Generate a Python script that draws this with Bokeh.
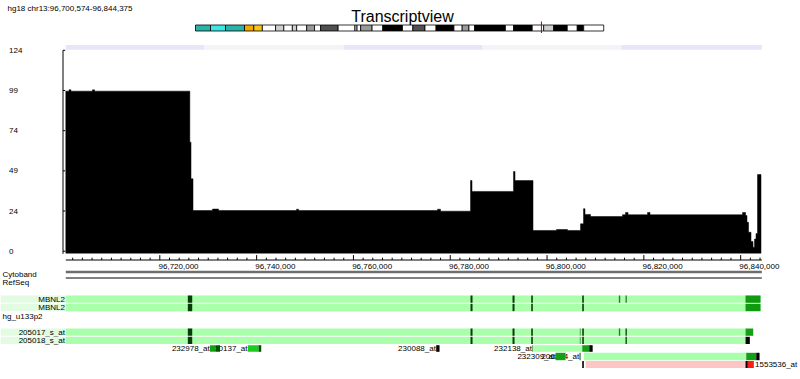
from bokeh.plotting import figure
from bokeh.models import Range1d
from bokeh.embed import file_html
from bokeh.resources import INLINE
from bokeh.core.properties import value

# ---------------- data ----------------
ASSEMBLY = "hg18"
CHROM = "chr13"
REGION_START = 96700574
REGION_END = 96844375
TITLE = "Transcriptview"

# read coverage (step function: value holds from break i to break i+1)
cov_breaks = [96700574, 96701241, 96701654, 96706096, 96706509, 96726198, 96726446,
              96726859, 96730888, 96732127, 96748242, 96748655, 96777373, 96777993,
              96784191, 96784501, 96793074, 96793384, 96797103, 96801958, 96804231,
              96806917, 96807536, 96807846, 96808983, 96815594, 96816214, 96816730,
              96820759, 96821275, 96840386, 96841006, 96841316, 96841626, 96842142,
              96842556, 96842865, 96843175, 96843485, 96844208]
cov_values = [98.8, 99.6, 98.8, 99.6, 98.8, 67.3, 44.7, 25.1, 26.0, 25.1, 25.9, 25.1,
              25.9, 24.7, 43.6, 36.9, 49.2, 43.6, 12.8, 13.4, 12.8, 16.9, 26.2, 22.7,
              21.4, 22.5, 23.9, 22.5, 23.9, 22.5, 23.9, 22.0, 17.8, 11.7, 6.0, 2.5, 7.5,
              10.9, 47.3]

cov_ticks = [0, 24.8, 49.6, 74.4, 99.2, 124]
cov_tick_labels = ["0", "24", "49", "74", "99", "124"]

ruler_major = [96720000, 96740000, 96760000, 96780000, 96800000, 96820000, 96840000]
ruler_minor_step = 2000

# alternating view strip above the coverage
view_breaks = [96700574, 96729235, 96757952, 96786669, 96815387, 96844375]

# chromosome ideogram (Mb) and stains
band_start = [0, 4.2, 8.4, 13.7, 16.3, 18.7, 22.4, 24.7, 27.1, 28.3, 31.1, 33.3, 35.0,
              39.9, 44.6, 45.2, 46.2, 49.4, 52.4, 57.9, 60.8, 64.2, 67.3, 72.3, 74.6,
              76.5, 78.1, 86.7, 89.0, 94.2, 97.4, 100.2, 104.0, 106.8, 108.6]
band_end = [4.2, 8.4, 13.7, 16.3, 18.7, 22.4, 24.7, 27.1, 28.3, 31.1, 33.3, 35.0, 39.9,
            44.6, 45.2, 46.2, 49.4, 52.4, 57.9, 60.8, 64.2, 67.3, 72.3, 74.6, 76.5,
            78.1, 86.7, 89.0, 94.2, 97.4, 100.2, 104.0, 106.8, 108.6, 114.2]
band_stain = ["gvar", "stalk", "gvar", "acen_p", "acen_q", "gneg", "gpos25", "gneg",
              "gpos25", "gneg", "gpos50", "gneg", "gpos75", "gneg", "gpos25", "gneg",
              "gpos50", "gneg", "gpos100", "gneg", "gpos75", "gneg", "gpos100", "gneg",
              "gpos50", "gneg", "gpos100", "gneg", "gpos100", "gneg", "gpos25",
              "gpos100", "gneg", "gpos100", "gneg"]

# RefSeq transcripts of MBNL2
mbnl2_a_start = [96725785, 96784191, 96792868, 96796731, 96807268, 96814829, 96816214, 96841006]
mbnl2_a_end = [96726694, 96784604, 96793281, 96797062, 96807598, 96815118, 96816482, 96844106]
mbnl2_a_kind = ["exon", "exon", "exon", "exon", "exon", "exon_l", "exon_l", "utr"]
mbnl2_b_start = [96725785, 96784191, 96792868, 96796731, 96807268, 96841006]
mbnl2_b_end = [96726694, 96784604, 96793281, 96797062, 96807598, 96844106]
mbnl2_b_kind = ["exon", "exon", "exon", "exon", "exon", "utr"]
mbnl2_extent = [96700574, 96844106]

# hg_u133p2 probe sets
p205017_start = [96725785, 96784191, 96792868, 96796731, 96806772, 96807268, 96814829, 96816214, 96841006]
p205017_end = [96726694, 96784604, 96793281, 96797062, 96806917, 96807598, 96815118, 96816482, 96842597]
p205017_kind = ["exon", "exon", "exon", "exon", "exon_l", "exon", "exon_l", "exon", "probe"]
p205018_start = [96725785, 96784191, 96792868, 96796731, 96806772, 96807268, 96816214, 96841006]
p205018_end = [96726694, 96784604, 96793281, 96797062, 96806917, 96807598, 96816482, 96841894]
p205018_kind = ["exon", "exon", "exon", "exon", "exon_l", "exon", "exon", "black"]
probe_extent = [96700574, 96841006]

row3_id = ["232978_at", "232978_at", "230137_at", "230137_at", "230088_at",
           "232138_at", "232138_at", "232138_at", "232138_at"]
row3_start = [96730371, 96731508, 96738181, 96740391, 96777104, 96796937, 96797062, 96807268, 96808720]
row3_end = [96731508, 96732437, 96740391, 96740949, 96777786, 96797062, 96807268, 96808720, 96809422]
row3_kind = ["probe", "dark", "probe_b", "dark", "black", "dark", "body", "probe", "black"]

row4_id = ["232309_at", "206804_at", "206804_at", "206804_at", "206804_at"]
row4_start = [96801751, 96806710, 96807598, 96841151, 96843217]
row4_end = [96803818, 96806917, 96841151, 96843217, 96843899]
row4_kind = ["probe", "dark", "body", "probe", "black"]

row5_id = ["1553536_at", "1553536_at", "1553536_at", "1553536_at"]
row5_start = [96807268, 96807970, 96841006, 96841481]
row5_end = [96807598, 96841006, 96841481, 96842721]
row5_kind = ["black", "neg", "black", "hi"]
labels_after = ["1553536_at"]

# ---------------- layout & style ----------------
W, H = 800, 379
BP_PER_PX = 206.6
REGION_X = 65.3          # px of REGION_START
COV_ZERO_Y = 250.7       # px of coverage 0
COV_PX = 1.62            # px per coverage unit
COV_BASE = -1.2
IDEO_X = 195.0           # px of chromosome start
IDEO_PX_PER_MB = 3.5746
FONT = value("Liberation Sans")

stain_color = {"gvar": "#2bb3aa", "stalk": "#3ee6e2", "acen_p": "#f0aa00", "acen_q": "#f8c418",
               "gneg": "#ffffff", "gpos25": "#cfcfcf", "gpos50": "#9a9a9a",
               "gpos75": "#505050", "gpos100": "#000000"}
kind_color = {"body": "#aaffaa", "exon": "#0b3b0b", "exon_l": "#2e7a2e", "utr": "#109a10",
              "probe": "#14a014", "probe_b": "#1ccc1c", "dark": "#005400", "black": "#000000",
              "neg": "#ffc4c4", "hi": "#ff1a1a"}

X0 = REGION_START - REGION_X * BP_PER_PX
X1 = X0 + W * BP_PER_PX


def gx(px):
    """pixel -> genomic coordinate (layout of labels only)"""
    return X0 + px * BP_PER_PX


p = figure(width=W, height=H, output_backend="svg", toolbar_location=None,
           x_range=Range1d(X0, X1), y_range=Range1d(H, 0),
           x_axis_type=None, y_axis_type=None, min_border=0, title=None,
           outline_line_color=None, background_fill_color="white",
           border_fill_color="white")
p.extra_y_ranges = {"cov": Range1d((COV_ZERO_Y - H) / COV_PX, COV_ZERO_Y / COV_PX)}
p.extra_x_ranges = {"chrom": Range1d(-IDEO_X / IDEO_PX_PER_MB, (W - IDEO_X) / IDEO_PX_PER_MB)}


def txt(x, y, text, size="8px", align="left", baseline="middle", **kw):
    p.text(x=x, y=y, text=text, text_font=FONT, text_font_size=size,
           text_align=align, text_baseline=baseline, text_color="black", **kw)


# header
txt([gx(7)], [8.4], [f"{ASSEMBLY} {CHROM}:{REGION_START:,}-{REGION_END:,}"], baseline="alphabetic")
txt([gx(402)], [15.6], [TITLE], size="16px", align="center", baseline="alphabetic")

# ideogram
p.quad(left=band_start, right=band_end, top=24.5, bottom=30.5,
       fill_color=[stain_color[s] for s in band_stain], line_color="black",
       line_width=0.8, x_range_name="chrom")
marker = (REGION_START + REGION_END) / 2 / 1e6
p.segment(x0=[marker], x1=[marker], y0=[21], y1=[32.5], line_color="#b00000",
          line_width=1, x_range_name="chrom")

# view strip
p.quad(left=view_breaks[:-1], right=view_breaks[1:], top=44.5, bottom=49.3,
       fill_color=["#e6e6fa" if i % 2 == 0 else "#f3f3f8" for i in range(len(view_breaks) - 1)],
       line_color=None)

# coverage as one step polygon
xs, ys = [cov_breaks[0]], [COV_BASE]
for i, v in enumerate(cov_values):
    xs += [cov_breaks[i], cov_breaks[i + 1]]
    ys += [v, v]
xs.append(cov_breaks[-1])
ys.append(COV_BASE)
p.patch(x=xs, y=ys, fill_color="black", line_color="black", line_width=0.5,
        y_range_name="cov")

# coverage y axis
AXIS_X = REGION_START - 2.8 * BP_PER_PX
p.segment(x0=[AXIS_X], x1=[AXIS_X], y0=[COV_BASE - 0.4], y1=[cov_ticks[-1]],
          line_color="black", line_width=1, y_range_name="cov")
p.segment(x0=[AXIS_X] * len(cov_ticks), x1=[AXIS_X + 2.2 * BP_PER_PX] * len(cov_ticks),
          y0=cov_ticks, y1=cov_ticks, line_color="black", line_width=1, y_range_name="cov")
txt([gx(8.5)] * len(cov_ticks), cov_ticks, cov_tick_labels, y_range_name="cov")

# genomic ruler
RULER_Y = 259.5
p.segment(x0=[REGION_START], x1=[REGION_END], y0=[RULER_Y], y1=[RULER_Y],
          line_color="black", line_width=1)
first_minor = (REGION_START // ruler_minor_step + 1) * ruler_minor_step
minor = [t for t in range(first_minor, REGION_END, ruler_minor_step) if t not in ruler_major]
p.segment(x0=minor, x1=minor, y0=[RULER_Y] * len(minor), y1=[257.2] * len(minor),
          line_color="black", line_width=1)
p.segment(x0=ruler_major, x1=ruler_major, y0=[RULER_Y] * len(ruler_major),
          y1=[254.6] * len(ruler_major), line_color="black", line_width=1)
txt([t - 1.3 * BP_PER_PX for t in ruler_major], [266.2] * len(ruler_major),
    [f"{t:,}" for t in ruler_major])

# cytoband / refseq summary lines
p.quad(left=[REGION_START], right=[REGION_END], top=[270.2], bottom=[272.8],
       fill_color="#6e6e6e", line_color=None)
p.segment(x0=[REGION_START], x1=[REGION_END], y0=[277.5], y1=[277.5],
          line_color="black", line_width=1)
txt([gx(2)] * 3, [273.6, 282.2, 316.2], ["Cytoband", "RefSeq", "hg_u133p2"])

# rows (px top/bottom)
rows = {"MBNL2_a": (295.0, 302.3), "MBNL2_b": (303.3, 310.7),
        "205017_s_at": (328.0, 335.3), "205018_s_at": (336.3, 343.5),
        "r3": (344.7, 351.3), "r4": (352.3, 359.7), "r5": (360.5, 367.5)}

labeled = [("MBNL2_a", "MBNL2", mbnl2_extent, mbnl2_a_start, mbnl2_a_end, mbnl2_a_kind),
           ("MBNL2_b", "MBNL2", mbnl2_extent, mbnl2_b_start, mbnl2_b_end, mbnl2_b_kind),
           ("205017_s_at", "205017_s_at", probe_extent, p205017_start, p205017_end, p205017_kind),
           ("205018_s_at", "205018_s_at", probe_extent, p205018_start, p205018_end, p205018_kind)]

for key, name, ext, st, en, kd in labeled:
    top, bot = rows[key]
    p.quad(left=[X0], right=[REGION_START], top=[top], bottom=[bot],
           fill_color="#e3fbe3", line_color=None)
    p.quad(left=[ext[0]], right=[ext[1]], top=[top], bottom=[bot],
           fill_color=kind_color["body"], line_color=None)
    p.quad(left=st, right=en, top=[top] * len(st), bottom=[bot] * len(st),
           fill_color=[kind_color[k] for k in kd], line_color=None)
    txt([REGION_START - 0.9 * BP_PER_PX], [(top + bot) / 2], [name], align="right")

for key, ids, st, en, kd in [("r3", row3_id, row3_start, row3_end, row3_kind),
                             ("r4", row4_id, row4_start, row4_end, row4_kind),
                             ("r5", row5_id, row5_start, row5_end, row5_kind)]:
    top, bot = rows[key]
    yc = (top + bot) / 2
    names = list(dict.fromkeys(ids))
    for nm in names:
        s = min(a for a, i in zip(st, ids) if i == nm)
        e = max(b for b, i in zip(en, ids) if i == nm)
        if nm in labels_after:
            txt([e + 1.2 * BP_PER_PX], [yc], [nm], align="left")
        else:
            txt([s - 0.3 * BP_PER_PX], [yc], [nm], align="right")
    p.quad(left=st, right=en, top=[top] * len(st), bottom=[bot] * len(st),
           fill_color=[kind_color[k] for k in kd], line_color=None)

open("out.html", "w").write(file_html(p, INLINE))
